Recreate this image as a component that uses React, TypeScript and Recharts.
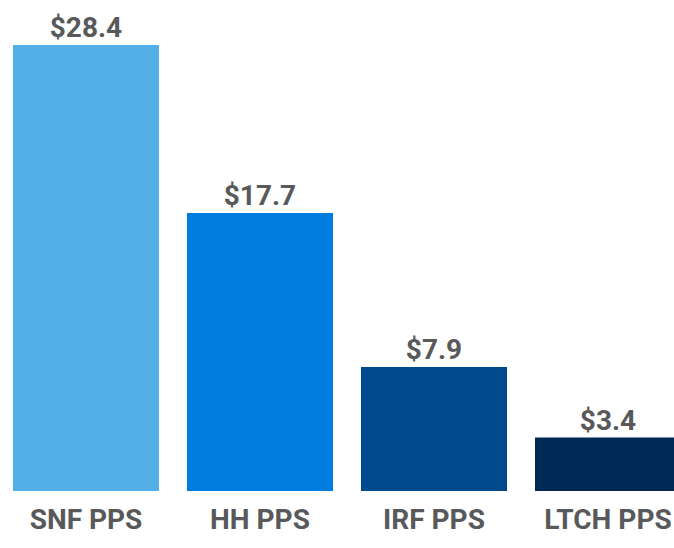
import { BarChart, Bar, XAxis, YAxis, Cell, LabelList } from "recharts";

const categories = ["SNF PPS", "HH PPS", "IRF PPS", "LTCH PPS"];
const spending = [28.4, 17.7, 7.9, 3.4];
const barColors = ["#52b0e6", "#007ddf", "#00498d", "#002855"];

const data = categories.map((name, i) => ({ name, value: spending[i] }));

const TEXT = "#58595b";

export default function App() {
  return (
    <div
      style={{
        position: "fixed",
        top: 0,
        left: 0,
        width: 674,
        height: 548,
        overflow: "hidden",
        background: "#fff",
        fontFamily: "Roboto, sans-serif",
      }}
    >
      <div style={{ marginLeft: -1 }}>
        <BarChart
          width={696}
          height={548}
          data={data}
          margin={{ top: 0, right: 0, left: 0, bottom: 0 }}
          barCategoryGap={14}
        >
          <XAxis
            dataKey="name"
            axisLine={false}
            tickLine={false}
            tickSize={0}
            tickMargin={18}
            height={57}
            interval={0}
            tick={{ fill: TEXT, fontSize: 28, fontWeight: 700, fontFamily: "Roboto, sans-serif" }}
          />
          <YAxis hide domain={[0, 31.27]} />
          <Bar dataKey="value" isAnimationActive={false}>
            {data.map((d, i) => (
              <Cell key={d.name} fill={barColors[i]} />
            ))}
            <LabelList
              dataKey="value"
              position="top"
              offset={8}
              formatter={(v: number) => `$${v}`}
              style={{ fill: TEXT, fontSize: 28, fontWeight: 700, fontFamily: "Roboto, sans-serif" }}
            />
          </Bar>
        </BarChart>
      </div>
    </div>
  );
}
